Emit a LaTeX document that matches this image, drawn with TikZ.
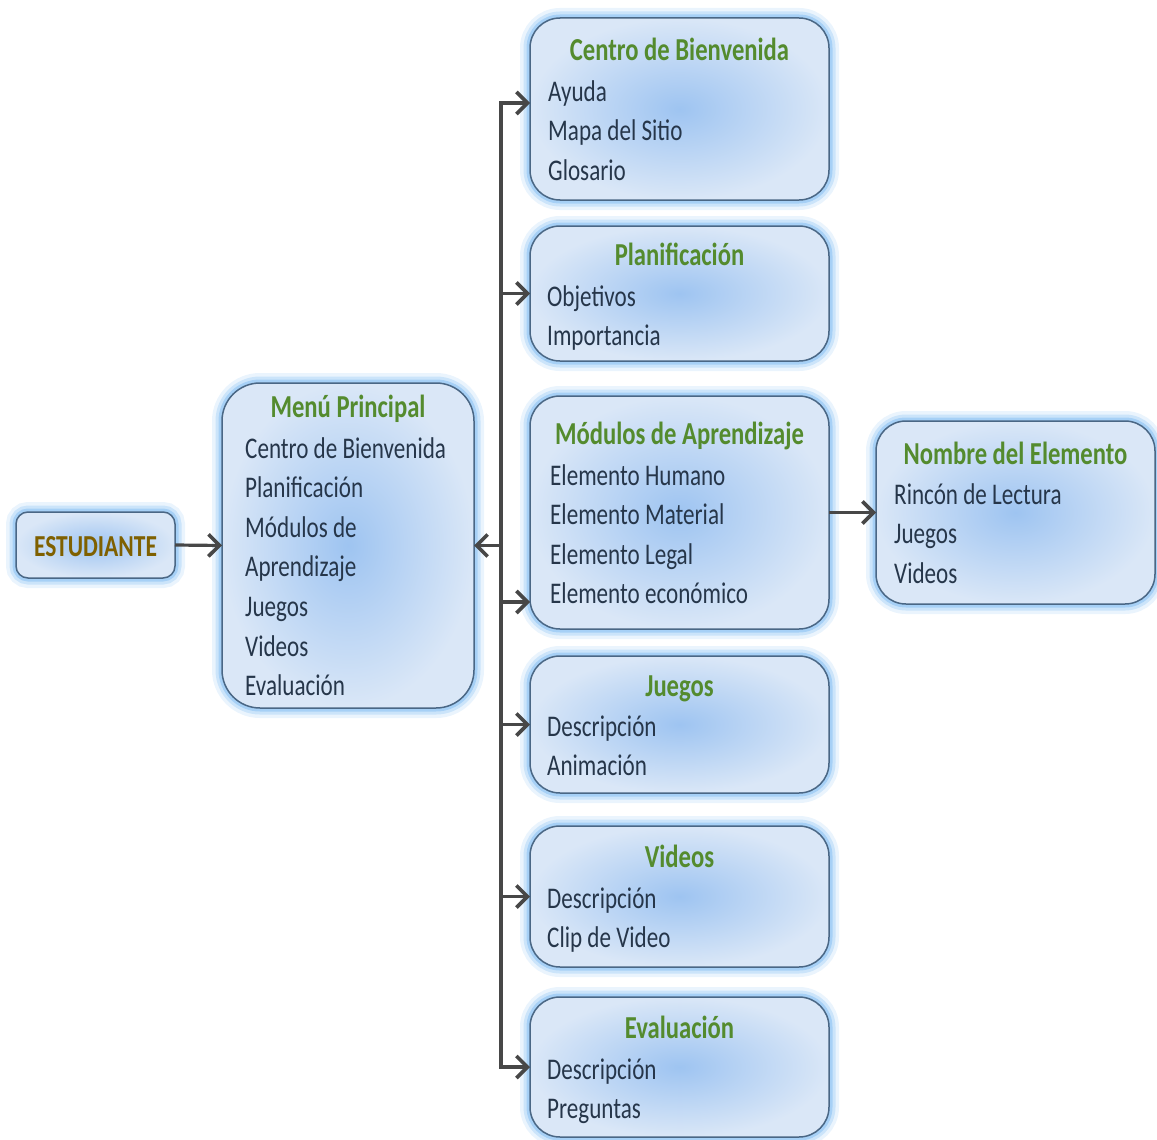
\documentclass[tikz,border=0pt]{standalone}
\usepackage{fontspec}
\setmainfont[FakeStretch=0.77]{Carlito}
\usetikzlibrary{arrows.meta}
\definecolor{bord}{HTML}{4A6785}
\definecolor{fin}{HTML}{9EC4F1}
\definecolor{fout}{HTML}{DAE7F7}
\definecolor{glowc}{HTML}{6FB3F0}
\definecolor{ttlc}{HTML}{548B2E}
\definecolor{txtc}{HTML}{26364A}
\definecolor{goldc}{HTML}{7F6000}
\definecolor{arrc}{HTML}{474747}
\tikzset{
  box/.style={draw=bord, line width=1.5, rounded corners=30, inner sep=0, outer sep=0,
    inner color=fin, outer color=fout,
    preaction={draw=glowc, line width=20, opacity=0.15},
    preaction={draw=glowc, line width=13, opacity=0.25},
    preaction={draw=glowc, line width=7, opacity=0.4}},
  ttl/.style={font=\fontsize{32}{36}\selectfont\bfseries, text=ttlc, anchor=base, inner sep=0},
  itm/.style={font=\fontsize{30}{36}\selectfont, text=txtc, anchor=base west, inner sep=0},
  conn/.style={draw=arrc, line width=3.2},
  arr/.style={conn, -{Straight Barb[length=11,width=22,line width=3.6]}}
}
\begin{document}
\begin{tikzpicture}[x=1pt,y=-1pt]
\useasboundingbox (0,0) rectangle (1157,1140);
% boxes
\node[box, rounded corners=12, minimum width=159, minimum height=66] (est) at (95.5,545) {};
\node[box, rounded corners=38, minimum width=252, minimum height=325] (menu) at (348,545.5) {};
\node[box, minimum width=299, minimum height=182] (cb) at (679.5,109) {};
\node[box, minimum width=299, minimum height=135] (pl) at (679.5,293.5) {};
\node[box, minimum width=299, minimum height=233] (mod) at (679.5,512.5) {};
\node[box, minimum width=299, minimum height=137] (jue) at (679.5,724.5) {};
\node[box, minimum width=299, minimum height=141] (vid) at (679.5,896.5) {};
\node[box, minimum width=299, minimum height=140] (eva) at (679.5,1067) {};
\node[box, minimum width=279, minimum height=183] (nom) at (1015.5,512.5) {};
% texts
\node[ttl, text=goldc, font=\fontsize{30.5}{34}\selectfont\bfseries] (estt) at (95.5,556) {ESTUDIANTE};
\node[ttl] (menut) at (348,417) {Menú Principal};
\foreach \t [count=\i] in {Centro de Bienvenida, Planificación, Módulos de, Aprendizaje, Juegos, Videos, Evaluación}
  \node[itm] (menui\i) at (245,{458+39.6*(\i-1)}) {\t};
\node[ttl] (cbt) at (679.5,60) {Centro de Bienvenida};
\foreach \t [count=\i] in {Ayuda, Mapa del Sitio, Glosario}
  \node[itm] (cbi\i) at (548,{101+39.6*(\i-1)}) {\t};
\node[ttl] (plt) at (679.5,265) {Planificación};
\foreach \t [count=\i] in {Objetivos, Importancia}
  \node[itm] (pli\i) at (547,{306+39.6*(\i-1)}) {\t};
\node[ttl] (modt) at (679.5,444) {Módulos de Aprendizaje};
\foreach \t [count=\i] in {Elemento Humano, Elemento Material, Elemento Legal, Elemento económico}
  \node[itm] (modi\i) at (550,{485+39.6*(\i-1)}) {\t};
\node[ttl] (juet) at (679.5,696) {Juegos};
\foreach \t [count=\i] in {Descripción, Animación}
  \node[itm] (juei\i) at (547,{736+39.6*(\i-1)}) {\t};
\node[ttl] (vidt) at (679.5,867) {Videos};
\foreach \t [count=\i] in {Descripción, Clip de Video}
  \node[itm] (vidi\i) at (547,{908+39.6*(\i-1)}) {\t};
\node[ttl] (evat) at (679.5,1038) {Evaluación};
\foreach \t [count=\i] in {Descripción, Preguntas}
  \node[itm] (evai\i) at (547,{1079+39.6*(\i-1)}) {\t};
\node[ttl] (nomt) at (1015.5,464) {Nombre del Elemento};
\foreach \t [count=\i] in {Rincón de Lectura, Juegos, Videos}
  \node[itm] (nomi\i) at (894,{504+39.6*(\i-1)}) {\t};
% connectors
\coordinate (s1) at (501,103);
\coordinate (s2) at (501,1067);
\coordinate (s3) at (501,1040);
\coordinate (m1) at (501,602);
\draw[arr] (s2) -- (s1) -- (s1 -| cb.west);
\draw[arr] (s3) -- (s2) -- (s2 -| eva.west);
\draw[arr] (s1 |- pl.west) -- (pl.west);
\draw[arr] (m1) -- (m1 -| mod.west);
\draw[arr] (s1 |- jue.west) -- (jue.west);
\draw[arr] (s1 |- vid.west) -- (vid.west);
\draw[arr] (s1 |- menu.east) -- (menu.east);
\draw[arr] (est.east) -- (menu.west);
\draw[arr] (mod.east) -- (nom.west);
\end{tikzpicture}
\end{document}
